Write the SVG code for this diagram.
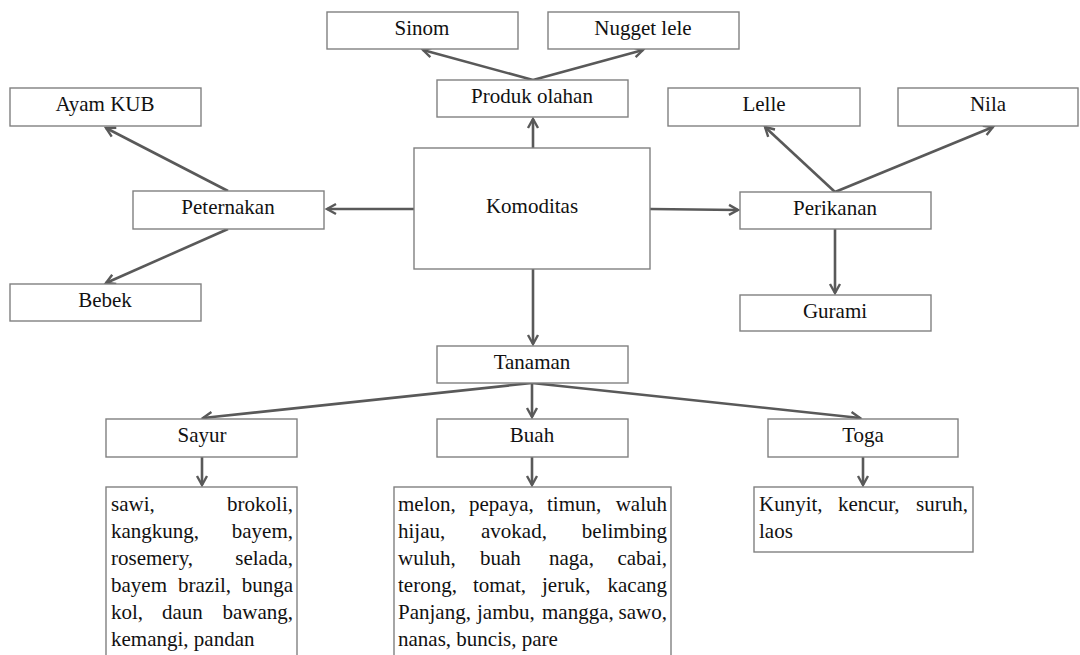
<svg xmlns="http://www.w3.org/2000/svg" width="1080" height="655" viewBox="0 0 1080 655">
<defs>
<marker id="ah" markerUnits="userSpaceOnUse" markerWidth="14" markerHeight="14" refX="9" refY="5" orient="auto" overflow="visible">
<path d="M0,0 L9,5 L0,10" fill="none" stroke="#595959" stroke-width="2.4" stroke-linejoin="miter"/>
</marker>
<style>
.box{fill:#ffffff;stroke:#808080;stroke-width:1.4}
.lbl{font-family:"Liberation Serif","Times New Roman",serif;font-size:21px;fill:#111111;text-anchor:middle}
.txt{font-family:"Liberation Serif","Times New Roman",serif;font-size:21px;fill:#111111}
.e{text-anchor:end}
.c{fill:none;stroke:#595959;stroke-width:2.6;marker-end:url(#ah)}
</style>
</defs>
<rect width="1080" height="655" fill="#ffffff"/>

<g id="connectors">
<line class="c" x1="533" y1="148" x2="533" y2="119"/>
<line class="c" x1="533" y1="80" x2="423" y2="50"/>
<line class="c" x1="533" y1="80" x2="643" y2="50"/>
<line class="c" x1="414" y1="209" x2="327" y2="209"/>
<line class="c" x1="228" y1="191" x2="106" y2="128"/>
<line class="c" x1="228" y1="229" x2="106" y2="283"/>
<line class="c" x1="650" y1="209" x2="738" y2="210"/>
<line class="c" x1="835" y1="192" x2="765" y2="127"/>
<line class="c" x1="835" y1="192" x2="993" y2="127"/>
<line class="c" x1="835" y1="229" x2="835" y2="293"/>
<line class="c" x1="533" y1="269" x2="533" y2="344"/>
<line class="c" x1="532" y1="383" x2="203" y2="418"/>
<line class="c" x1="532" y1="383" x2="532" y2="417"/>
<line class="c" x1="532" y1="383" x2="860" y2="418"/>
<line class="c" x1="202" y1="457" x2="202" y2="485"/>
<line class="c" x1="532" y1="457" x2="532" y2="485"/>
<line class="c" x1="863" y1="457" x2="863" y2="485"/>
</g>

<g id="komoditas"><rect class="box" x="414" y="148" width="236" height="121"/><text class="lbl" x="532" y="213">Komoditas</text></g>
<g id="produk-olahan"><rect class="box" x="437" y="80" width="191" height="37"/><text class="lbl" x="532" y="103">Produk olahan</text></g>
<g id="sinom"><rect class="box" x="327" y="12" width="191" height="37"/><text class="lbl" x="422" y="35">Sinom</text></g>
<g id="nugget-lele"><rect class="box" x="548" y="12" width="191" height="37"/><text class="lbl" x="643" y="35">Nugget lele</text></g>
<g id="peternakan"><rect class="box" x="133" y="191" width="191" height="38"/><text class="lbl" x="228" y="214">Peternakan</text></g>
<g id="ayam-kub"><rect class="box" x="10" y="88" width="191" height="38"/><text class="lbl" x="105" y="111">Ayam KUB</text></g>
<g id="bebek"><rect class="box" x="10" y="284" width="191" height="37"/><text class="lbl" x="105" y="307">Bebek</text></g>
<g id="perikanan"><rect class="box" x="740" y="192" width="191" height="37"/><text class="lbl" x="835" y="215">Perikanan</text></g>
<g id="lelle"><rect class="box" x="668" y="88" width="192" height="38"/><text class="lbl" x="764" y="111">Lelle</text></g>
<g id="nila"><rect class="box" x="898" y="88" width="180" height="38"/><text class="lbl" x="988" y="111">Nila</text></g>
<g id="gurami"><rect class="box" x="740" y="295" width="191" height="36"/><text class="lbl" x="835" y="318">Gurami</text></g>
<g id="tanaman"><rect class="box" x="437" y="346" width="191" height="37"/><text class="lbl" x="532" y="369">Tanaman</text></g>
<g id="sayur"><rect class="box" x="106" y="419" width="191" height="38"/><text class="lbl" x="202" y="442">Sayur</text></g>
<g id="buah"><rect class="box" x="437" y="419" width="191" height="38"/><text class="lbl" x="532" y="442">Buah</text></g>
<g id="toga"><rect class="box" x="768" y="419" width="190" height="38"/><text class="lbl" x="863" y="442">Toga</text></g>

<g id="sayur-list"><rect class="box" x="106" y="487" width="191" height="180"/>
<text class="txt" x="111" y="511">sawi,</text><text class="txt e" x="293" y="511">brokoli,</text>
<text class="txt" x="111" y="538">kangkung,</text><text class="txt e" x="293" y="538">bayem,</text>
<text class="txt" x="111" y="565">rosemery,</text><text class="txt e" x="293" y="565">selada,</text>
<text class="txt" x="111" y="592">bayem</text><text class="txt" x="178" y="592">brazil,</text><text class="txt e" x="293" y="592">bunga</text>
<text class="txt" x="111" y="619">kol,</text><text class="txt" x="162" y="619">daun</text><text class="txt e" x="293" y="619">bawang,</text>
<text class="txt" x="111" y="646">kemangi, pandan</text>
</g>

<g id="buah-list"><rect class="box" x="394" y="487" width="277" height="180"/>
<text class="txt" x="398" y="511">melon,</text><text class="txt" x="469" y="511">pepaya,</text><text class="txt" x="547" y="511">timun,</text><text class="txt e" x="667" y="511">waluh</text>
<text class="txt" x="398" y="538">hijau,</text><text class="txt" x="481" y="538">avokad,</text><text class="txt e" x="667" y="538">belimbing</text>
<text class="txt" x="398" y="565">wuluh,</text><text class="txt" x="480" y="565">buah</text><text class="txt" x="549" y="565">naga,</text><text class="txt e" x="667" y="565">cabai,</text>
<text class="txt" x="398" y="592">terong,</text><text class="txt" x="473" y="592">tomat,</text><text class="txt" x="542" y="592">jeruk,</text><text class="txt e" x="667" y="592">kacang</text>
<text class="txt" x="398" y="619">Panjang,</text><text class="txt" x="477" y="619">jambu,</text><text class="txt" x="542" y="619">mangga,</text><text class="txt e" x="667" y="619">sawo,</text>
<text class="txt" x="398" y="646">nanas, buncis, pare</text>
</g>

<g id="toga-list"><rect class="box" x="754" y="487" width="219" height="65"/>
<text class="txt" x="759" y="511">Kunyit,</text><text class="txt" x="838" y="511">kencur,</text><text class="txt e" x="968" y="511">suruh,</text>
<text class="txt" x="759" y="538">laos</text>
</g>
</svg>
